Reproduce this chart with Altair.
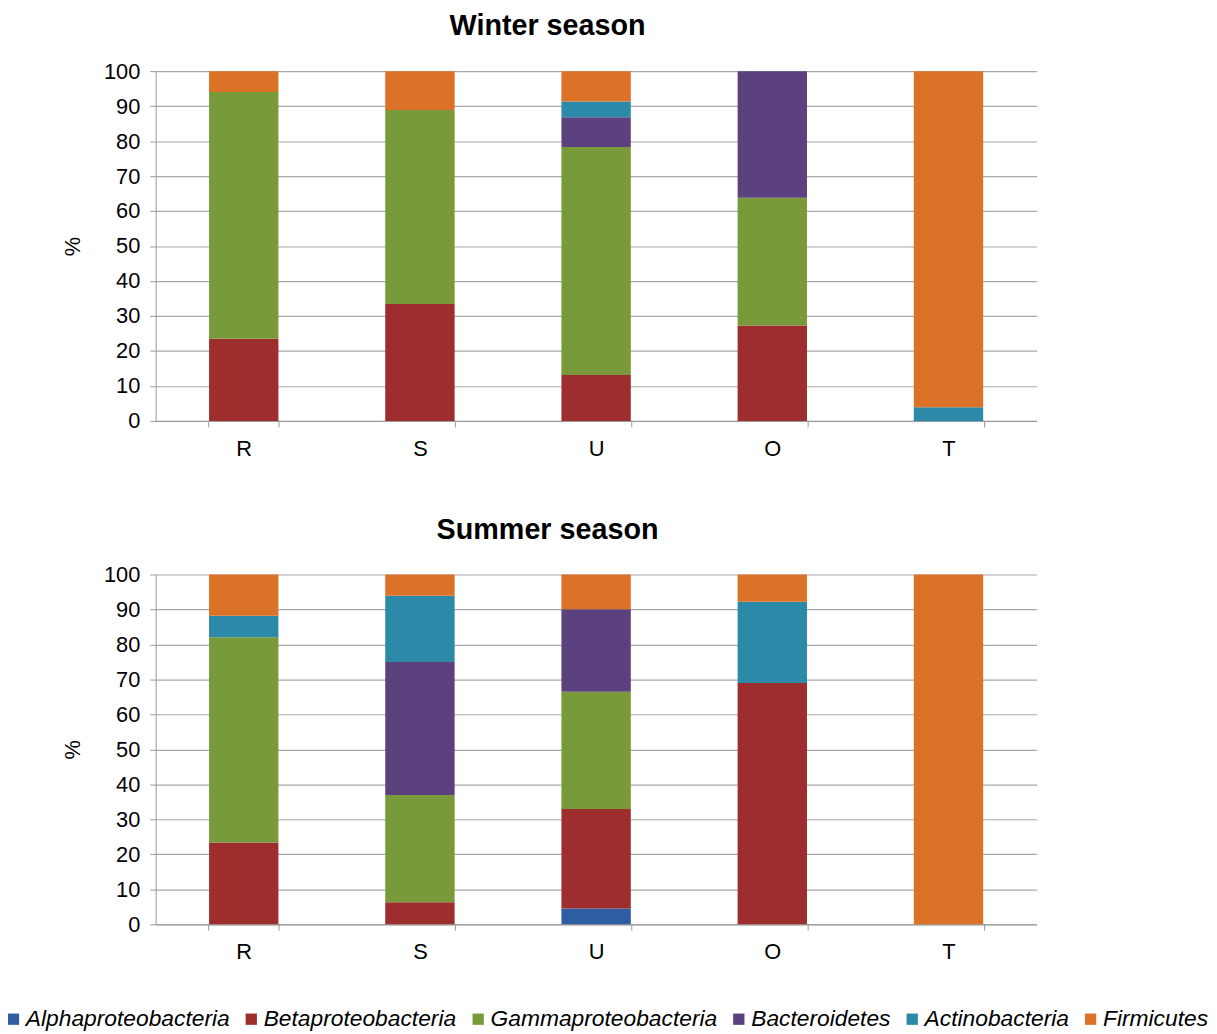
import altair as alt
import pandas as pd

sites = ["R", "S", "U", "O", "T"]
taxa = ["Alphaproteobacteria", "Betaproteobacteria", "Gammaproteobacteria",
        "Bacteroidetes", "Actinobacteria", "Firmicutes"]
colors = ["#2E5DA3", "#9E2E2D", "#789A3A", "#5B417E", "#2C89A8", "#DC7128"]

# percentages per site (order R, S, U, O, T)
winter = {
    "Alphaproteobacteria": [0, 0, 0, 0, 0],
    "Betaproteobacteria": [23.5, 33.4, 13.1, 27.3, 0],
    "Gammaproteobacteria": [70.5, 55.5, 65.2, 36.5, 0],
    "Bacteroidetes": [0, 0, 8.5, 36.2, 0],
    "Actinobacteria": [0, 0, 4.5, 0, 3.9],
    "Firmicutes": [6.0, 11.1, 8.7, 0, 96.1],
}
summer = {
    "Alphaproteobacteria": [0, 0, 4.5, 0, 0],
    "Betaproteobacteria": [23.4, 6.3, 28.5, 69.0, 0],
    "Gammaproteobacteria": [58.7, 30.7, 33.5, 0, 0],
    "Bacteroidetes": [0, 38.0, 23.6, 0, 0],
    "Actinobacteria": [6.1, 18.9, 0, 23.2, 0],
    "Firmicutes": [11.8, 6.1, 9.9, 7.8, 100.0],
}

rows = []
for season, d in [("Winter season", winter), ("Summer season", summer)]:
    for ti, t in enumerate(taxa):
        for si, s in enumerate(sites):
            rows.append({"season": season, "site": s, "taxon": t, "order": ti, "value": d[t][si]})
df = pd.DataFrame(rows)

FONT = "Liberation Sans"


def panel(season, show_legend):
    if show_legend:
        leg = alt.Legend(
            title=None, orient="none", direction="horizontal", columns=6,
            legendX=-155, legendY=437, padding=0,
            symbolType="square", symbolSize=130, symbolStrokeWidth=0,
            labelFont=FONT, labelFontSize=23, labelFontStyle="italic",
            labelColor="#000000", labelOffset=1, columnPadding=10,
            labelLimit=400,
        )
    else:
        leg = None
    return alt.Chart(df[df.season == season]).mark_bar(size=70).encode(
        x=alt.X("site:N", sort=sites, title=None,
                scale=alt.Scale(paddingInner=0.6, paddingOuter=0.3),
                axis=alt.Axis(labelAngle=0, labelFont=FONT, labelFontSize=22,
                              labelColor="#000000", labelPadding=12,
                              domainColor="#9A9A9A", tickColor="#9A9A9A",
                              tickSize=6, tickBand="extent", grid=False)),
        y=alt.Y("value:Q", stack="zero", title="%",
                scale=alt.Scale(domain=[0, 100], nice=False),
                axis=alt.Axis(values=list(range(0, 101, 10)), labelFont=FONT,
                              labelFontSize=22, labelColor="#000000",
                              labelPadding=10, domainColor="#9A9A9A",
                              tickColor="#9A9A9A", tickSize=6,
                              gridColor="#A8A8A8", gridWidth=1.2,
                              titleFont=FONT, titleFontSize=22,
                              titleFontWeight="normal", titleColor="#000000",
                              titlePadding=19)),
        color=alt.Color("taxon:N", scale=alt.Scale(domain=taxa, range=colors),
                        legend=leg),
        order=alt.Order("order:Q", sort="ascending"),
    ).properties(
        width=889, height=353,
        title=alt.TitleParams(season, font=FONT, fontSize=29, fontWeight="bold",
                              color="#000000", anchor="middle", offset=19,
                              dx=-49),
    )


chart = alt.vconcat(
    panel("Winter season", False),
    panel("Summer season", True),
    spacing=57,
).resolve_scale(color="independent").properties(
    padding={"left": -6, "top": 0, "right": 0, "bottom": 0}
).configure_view(stroke=None)

chart.save("out.html", embed_options={"renderer": "svg", "actions": False})
